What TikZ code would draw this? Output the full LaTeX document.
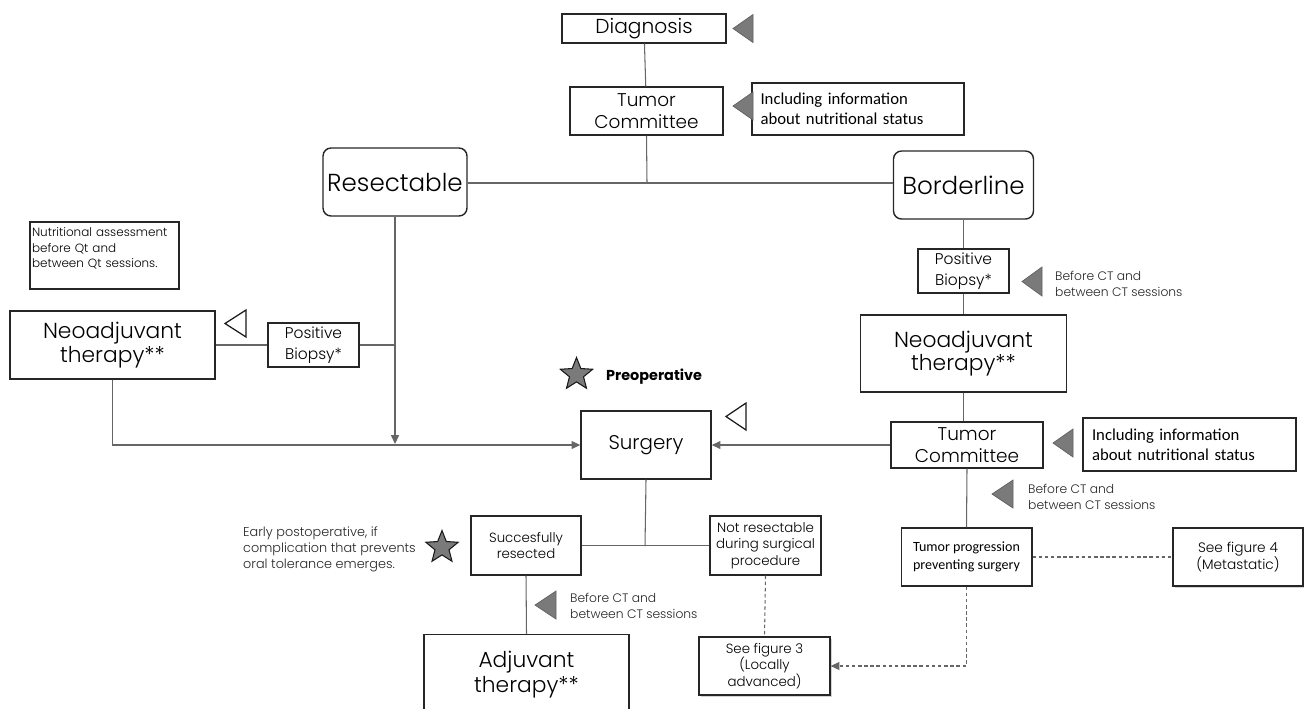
\documentclass[tikz,border=0pt]{standalone}
\usepackage{fontspec}
\setmainfont{Poppins}[UprightFont={* Light},BoldFont={* Bold}]
\newfontfamily\calfont{Carlito}
\usetikzlibrary{arrows.meta,shapes.geometric,shadows}
\newcommand{\fsz}[2]{\fontsize{#1}{#2}\selectfont}
\begin{document}
\begin{tikzpicture}[x=0.02cm,y=-0.02cm,
    box/.style={draw=black!85,line width=0.8pt,align=center,inner sep=1pt},
    roundbox/.style={box,rounded corners=0.16cm},
    notebox/.style={box,font=\calfont\fsz{9.5}{11.4},align=left},
    figbox/.style={box,line width=0.7pt,fill=white,drop shadow={shadow xshift=1.2pt,shadow yshift=-1.2pt,opacity=0.35}},
    link/.style={black!60,line width=0.6pt},
    dlink/.style={link,dash pattern=on 2pt off 1.5pt},
    tip/.style={-{Triangle[length=5pt,width=4.5pt]}},
    gtri/.style={fill=black!52,draw=black!62,line width=0.4pt},
    wtri/.style={draw=black!90,fill=white,line width=0.7pt},
    gstar/.style={star,star points=5,star point ratio=2.3,fill=black!52,draw=black!90,line width=0.6pt,minimum size=0.68cm,inner sep=0pt},
    remark/.style={align=left,anchor=west,font=\fsz{7}{9.1},text=black!85}]
\useasboundingbox (0,0) rectangle (1304,708);
\clip (0,0) rectangle (1304,708);

% top
\node[box,minimum width=3.28cm,minimum height=0.58cm,font=\fsz{11.5}{14}] (diag) at (644,28.5) {Diagnosis};
\node[box,minimum width=3.06cm,minimum height=0.96cm,font=\fsz{10.5}{12.5}] (tcA) at (646.5,111) {Tumor\\Committee};
\node[notebox,minimum width=4.24cm,minimum height=1.04cm,text width=3.9cm] (noteA) at (858,109) {Including information\\about nutritional status};
\draw[gtri] (733,28.5) -- ++(20,-14) -- ++(0,28) -- cycle;
\draw[gtri] (733,106) -- ++(20,-14) -- ++(0,28) -- cycle;
\draw[link] (diag) -- (tcA);

\node[roundbox,minimum width=2.88cm,minimum height=1.36cm,font=\fsz{14}{16}] (resect) at (395,182) {Resectable};
\node[roundbox,minimum width=2.8cm,minimum height=1.36cm,font=\fsz{14}{16}] (border) at (963.5,185) {Borderline};
\coordinate (split) at (647,183);
\draw[link] (tcA.south) -- (split);
\draw[link] (resect.east |- split) -- (border.west |- split);

% left branch
\node[box,minimum width=2.98cm,minimum height=1.34cm,text width=2.9cm,align=left,font=\fsz{6.8}{8.8}] (noteB) at (104.5,255.5) {Nutritional assessment\\before Qt and\\between Qt sessions.\\\mbox{}};
\node[box,minimum width=4.1cm,minimum height=1.36cm,font=\fsz{12.4}{13.4}] (neoL) at (112.5,345) {Neoadjuvant\\therapy**};
\node[box,line width=0.6pt,minimum width=1.82cm,minimum height=0.88cm,font=\fsz{8.8}{12.3}] (pbL) at (313.5,345) {Positive\\Biopsy*};
\draw[wtri] (225,323.5) -- ++(21,-13.5) -- ++(0,27) -- cycle;
\coordinate (drop) at (395,444);
\draw[link] (neoL.east) -- (pbL.west);
\draw[link] (pbL.east) -- (pbL.east -| drop);
\draw[link,tip] (resect.south) -- (drop);

% surgery
\node[gstar] (star1) at (576.5,374.5) {};
\node[anchor=west,font=\bfseries\fsz{8.2}{9}] (preop) at (600,377) {Preoperative};
\node[box,minimum width=2.6cm,minimum height=1.36cm,font=\fsz{11.3}{13}] (surg) at (646,445) {Surgery};
\draw[wtri] (726,416.5) -- ++(20,-13.5) -- ++(0,27) -- cycle;
\draw[link,tip] (neoL.south) |- (surg.west);

% right branch
\node[box,line width=0.6pt,minimum width=1.82cm,minimum height=0.88cm,font=\fsz{8.8}{12.3}] (pbR) at (963.5,271) {Positive\\Biopsy*};
\draw[gtri] (1022,281.5) -- ++(20,-14.5) -- ++(0,29) -- cycle;
\node[remark] (ctA) at (1049,284) {Before CT and\\between CT sessions};
\node[box,minimum width=4.12cm,minimum height=1.54cm,font=\fsz{12.4}{13.4}] (neoR) at (963.5,353.5) {Neoadjuvant\\therapy**};
\node[box,minimum width=3.04cm,minimum height=0.92cm,font=\fsz{10.5}{12.5}] (tcR) at (967,445) {Tumor\\Committee};
\draw[gtri] (1053,443) -- ++(20,-14) -- ++(0,28) -- cycle;
\node[notebox,minimum width=4.26cm,minimum height=1.06cm,text width=3.9cm] (noteR) at (1189.5,444.5) {Including information\\about nutritional status};
\draw[gtri] (992,494) -- ++(21,-14) -- ++(0,28) -- cycle;
\node[remark] (ctB) at (1022,497) {Before CT and\\between CT sessions};
\node[box,line width=0.6pt,minimum width=2.62cm,minimum height=1.16cm,font=\calfont\fsz{8}{9.9}] (prog) at (966.5,557) {Tumor progression\\preventing surgery};
\node[figbox,minimum width=2.6cm,minimum height=1.16cm,font=\fsz{7.8}{9.9}] (fig4) at (1238,557) {See figure 4\\(Metastatic)};
\draw[link] (border.south) -- (pbR.north);
\draw[link] (pbR.south) -- (neoR.north);
\draw[link] (neoR.south) -- (neoR.south |- tcR.north);
\draw[link] (tcR.south) -- (prog.north);
\draw[link,tip] (tcR.west) -- (surg.east);
\draw[dlink] (prog.east) -- (fig4.west);

% after surgery
\node[box,line width=0.6pt,minimum width=2.2cm,minimum height=1.18cm,font=\fsz{7.6}{9.1}] (done) at (526,545.5) {Succesfully\\resected};
\node[box,line width=0.6pt,minimum width=2.22cm,minimum height=1.18cm,font=\fsz{7.6}{9.3}] (notres) at (765.5,545.5) {Not resectable\\during surgical\\procedure};
\coordinate (fork) at (645,546);
\draw[link] (surg.south) -- (fork);
\draw[link] (done.east) -- (notres.west);
\node[gstar] (star2) at (442,547.5) {};
\node[remark,font=\fsz{7.3}{9.1}] (early) at (237,549) {Early postoperative, if\\complication that prevents\\oral tolerance emerges.};
\node[box,anchor=north,minimum width=4.1cm,minimum height=1.6cm,font=\fsz{12.4}{14.2}] (adj) at (526.5,634) {Adjuvant\\therapy**};
\draw[gtri] (535,605) -- ++(21,-14) -- ++(0,28) -- cycle;
\node[remark] (ctC) at (564,606) {Before CT and\\between CT sessions};
\draw[link] (done.south) -- (adj.north);
\node[figbox,minimum width=2.62cm,minimum height=1.16cm,font=\fsz{7.6}{9.5}] (fig3) at (764.5,666) {See figure 3\\(Locally\\advanced)};
\draw[dlink] (notres.south) -- (fig3.north);
\draw[dlink,tip] (prog.south) |- (fig3.east);
\end{tikzpicture}
\end{document}
